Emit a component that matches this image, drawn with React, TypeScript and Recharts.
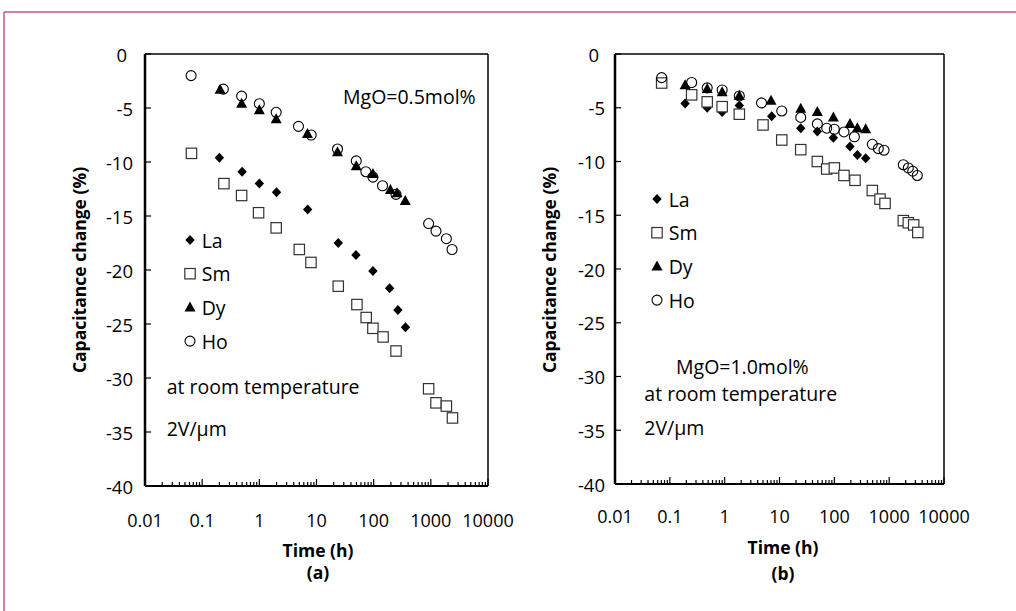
import React from 'react';
import { ScatterChart, Scatter, XAxis, YAxis, ReferenceLine, Legend } from 'recharts';

// ---------- axis ticks ----------
const majorTicks = [0.01, 0.1, 1, 10, 100, 1000, 10000];
const majorTickLabels = ['0.01', '0.1', '1', '10', '100', '1000', '10000'];
const yTicks = [0, -5, -10, -15, -20, -25, -30, -35, -40];
const seriesNames = ['La', 'Sm', 'Dy', 'Ho'];

// ---------- panel (a) MgO = 0.5 mol% ----------
const laTimeA = [0.2, 0.5, 1, 2, 7, 24, 49, 97, 190, 265, 360];
const laValA = [-9.6, -10.9, -12.0, -12.8, -14.4, -17.5, -18.6, -20.1, -21.7, -23.7, -25.3];
const smTimeA = [0.065, 0.24, 0.49, 0.97, 1.97, 5.0, 8.0, 24, 51, 74, 97, 146, 246, 915, 1230, 1870, 2390];
const smValA = [-9.2, -12.0, -13.1, -14.7, -16.1, -18.1, -19.3, -21.5, -23.2, -24.4, -25.4, -26.2, -27.5, -31.0, -32.3, -32.6, -33.7];
const dyTimeA = [0.206, 0.49, 1.0, 1.97, 6.95, 23.3, 49.6, 97, 196, 256, 357];
const dyValA = [-3.3, -4.6, -5.2, -6.05, -7.4, -9.1, -10.4, -11.1, -12.6, -12.9, -13.6];
const hoTimeA = [0.064, 0.235, 0.49, 1.0, 1.97, 4.84, 8.07, 23.3, 49.6, 73, 97, 143, 246, 915, 1230, 1870, 2350];
const hoValA = [-2.0, -3.25, -3.9, -4.6, -5.4, -6.7, -7.5, -8.8, -9.9, -10.9, -11.4, -12.2, -13.0, -15.7, -16.4, -17.1, -18.1];

// ---------- panel (b) MgO = 1.0 mol% ----------
const laTimeB = [0.19, 0.48, 0.9, 1.85, 7.2, 24.4, 49, 96, 193, 263, 373];
const laValB = [-4.6, -5.0, -5.4, -4.8, -5.8, -6.9, -7.2, -7.8, -8.6, -9.4, -9.7];
const smTimeB = [0.071, 0.25, 0.48, 0.9, 1.85, 5.0, 11, 24.4, 49, 72.6, 100, 150, 238, 493, 681, 840, 1812, 2235, 2800, 3330];
const smValB = [-2.7, -3.8, -4.45, -4.9, -5.6, -6.6, -8.0, -8.9, -10.0, -10.7, -10.6, -11.3, -11.75, -12.7, -13.5, -13.9, -15.5, -15.7, -15.9, -16.6];
const dyTimeB = [0.19, 0.48, 0.9, 1.85, 7.0, 24.4, 49, 96, 193, 263, 373];
const dyValB = [-2.9, -3.25, -3.55, -3.9, -4.35, -5.1, -5.4, -5.9, -6.5, -6.9, -7.0];
const hoTimeB = [0.071, 0.25, 0.48, 0.9, 1.85, 4.7, 11, 24.4, 49, 72.6, 100, 150, 232, 493, 634, 806, 1812, 2235, 2690, 3260];
const hoValB = [-2.2, -2.65, -3.15, -3.35, -3.9, -4.55, -5.3, -5.9, -6.5, -6.9, -7.0, -7.25, -7.7, -8.4, -8.8, -8.95, -10.3, -10.6, -10.9, -11.3];

const toPoints = (t: number[], v: number[]) => t.map((x, i) => ({ t: x, v: v[i] }));

const allXTicks: number[] = [];
majorTicks.forEach((m, i) => {
  if (i === majorTicks.length - 1) { allXTicks.push(m); return; }
  for (let k = 1; k <= 9; k++) allXTicks.push(Number((m * k).toPrecision(3)));
});

const FONT = '"Open Sans", "Noto Sans", sans-serif';

// ---------- markers ----------
const Diamond = (p: any) => (
  <polygon points={`${p.cx},${p.cy - 5} ${p.cx + 4.7},${p.cy} ${p.cx},${p.cy + 5} ${p.cx - 4.7},${p.cy}`} fill="#000" />
);
const Square = (p: any) => (
  <rect x={p.cx - 5.2} y={p.cy - 5.2} width={10.4} height={10.4} fill="#fff" stroke="#333" strokeWidth={1.2} />
);
const Triangle = (p: any) => (
  <polygon points={`${p.cx},${p.cy - 6} ${p.cx + 5.5},${p.cy + 4} ${p.cx - 5.5},${p.cy + 4}`} fill="#000" />
);
const Circle = (p: any) => <circle cx={p.cx} cy={p.cy} r={5} fill="none" stroke="#000" strokeWidth={1.1} />;
const markers: Record<string, (p: any) => React.ReactElement> = { La: Diamond, Sm: Square, Dy: Triangle, Ho: Circle };

// ---------- ticks ----------
const makeXTick = (labelDy: number) => (props: any) => {
  const { x, y, payload } = props;
  const v = payload.value;
  const idx = majorTicks.findIndex((m) => Math.abs(m - v) / m < 1e-6);
  const major = idx >= 0;
  return (
    <g>
      <line x1={x} x2={x} y1={y} y2={y - (major ? 7 : 4)} stroke="#000" strokeWidth={1.2} />
      {major && (
        <text x={x} y={y + labelDy} textAnchor="middle" dominantBaseline="central" fontFamily={FONT} fontSize={18} fill="#000">
          {majorTickLabels[idx]}
        </text>
      )}
    </g>
  );
};

const makeYTick = (gap: number) => (props: any) => {
  const { x, y, payload } = props;
  return (
    <g>
      <line x1={x} x2={x + 6} y1={y} y2={y} stroke="#000" strokeWidth={1.2} />
      <text x={x - gap - (payload.value === 0 ? 6 : 0)} y={y} textAnchor="end" dominantBaseline="central" fontFamily={FONT} fontSize={18.5} fill="#000">
        {payload.value}
      </text>
    </g>
  );
};

const makeLegend = () => () => (
  <svg width={120} height={140} style={{ overflow: 'visible' }}>
    {seriesNames.map((n, i) => {
      const M = markers[n];
      const cy = 18 + i * 33.7;
      return (
        <g key={n}>
          <M cx={10} cy={cy} />
          <text x={21.7} y={cy} dominantBaseline="central" fontFamily={FONT} fontSize={19.5} fill="#000">{n}</text>
        </g>
      );
    })}
  </svg>
);

type PanelProps = {
  data: { La: any[]; Sm: any[]; Dy: any[]; Ho: any[] };
  width: number;
  margin: { top: number; right: number; bottom: number; left: number };
  labelDy: number;
  tickGap: number;
  legendPos: { left: number; top: number };
};

const Panel = ({ data, width, margin, labelDy, tickGap, legendPos }: PanelProps) => (
  <ScatterChart width={width} height={611} margin={margin}>
    <XAxis
      dataKey="t"
      type="number"
      scale="log"
      domain={[0.01, 10000]}
      allowDataOverflow
      ticks={allXTicks}
      interval={0}
      tickSize={0}
      tickMargin={0}
      tickLine={false}
      height={40}
      axisLine={{ stroke: '#000', strokeWidth: 2 }}
      tick={makeXTick(labelDy)}
    />
    <YAxis
      dataKey="v"
      type="number"
      domain={[-40, 0]}
      ticks={yTicks}
      interval={0}
      tickSize={0}
      tickMargin={0}
      tickLine={false}
      width={60}
      axisLine={{ stroke: '#000', strokeWidth: 2.5 }}
      tick={makeYTick(tickGap)}
    />
    <ReferenceLine y={0} stroke="#000" strokeWidth={1.5} />
    <ReferenceLine x={10000} stroke="#000" strokeWidth={1.5} />
    <Scatter name="La" data={data.La} shape={Diamond} isAnimationActive={false} />
    <Scatter name="Sm" data={data.Sm} shape={Square} isAnimationActive={false} />
    <Scatter name="Dy" data={data.Dy} shape={Triangle} isAnimationActive={false} />
    <Scatter name="Ho" data={data.Ho} shape={Circle} isAnimationActive={false} />
    <Legend
      layout="vertical"
      align="center"
      verticalAlign="middle"
      content={makeLegend()}
      wrapperStyle={{ left: legendPos.left, top: legendPos.top, width: 120, height: 140 }}
    />
  </ScatterChart>
);

const dataA = {
  La: toPoints(laTimeA, laValA),
  Sm: toPoints(smTimeA, smValA),
  Dy: toPoints(dyTimeA, dyValA),
  Ho: toPoints(hoTimeA, hoValA),
};
const dataB = {
  La: toPoints(laTimeB, laValB),
  Sm: toPoints(smTimeB, smValB),
  Dy: toPoints(dyTimeB, dyValB),
  Ho: toPoints(hoTimeB, hoValB),
};

export default function App() {
  const txt = { fontFamily: FONT, fill: '#000' } as const;
  return (
    <div style={{ position: 'absolute', left: 0, top: 0, width: 1016, height: 611, background: '#fff', overflow: 'hidden' }}>
      <div style={{ position: 'absolute', left: 508, top: 0 }}>
        <Panel data={dataB} width={508} margin={{ top: 54, right: 72, bottom: 87, left: 47 }} labelDy={32} tickGap={10} legendPos={{ left: 138.7, top: 181.3 }} />
      </div>
      <div style={{ position: 'absolute', left: 0, top: 0 }}>
        <Panel data={dataA} width={560} margin={{ top: 54, right: 72, bottom: 85, left: 85 }} labelDy={34} tickGap={12} legendPos={{ left: 180, top: 222 }} />
      </div>
      <svg width={1016} height={611} style={{ position: 'absolute', left: 0, top: 0, pointerEvents: 'none' }}>
        <line x1={4} y1={12} x2={1016} y2={12} stroke="#d14f86" strokeWidth={1.5} />
        <line x1={4} y1={12} x2={4} y2={611} stroke="#d14f86" strokeWidth={1.5} />

        {/* panel (a) texts */}
        <text x={343} y={104} fontSize={19.5} {...txt}>MgO=0.5mol%</text>
        <text x={166.7} y={394} fontSize={19.5} {...txt}>at room temperature</text>
        <text x={166.7} y={436} fontSize={19.5} {...txt}>2V/μm</text>
        <text transform="translate(86,270) rotate(-90)" textAnchor="middle" fontSize={17.5} fontWeight="bold" {...txt}>Capacitance change (%)</text>
        <text x={318} y={557} textAnchor="middle" fontSize={17.5} fontWeight="bold" {...txt}>Time (h)</text>
        <text x={318} y={579} textAnchor="middle" fontSize={17.5} fontWeight="bold" {...txt}>(a)</text>

        {/* panel (b) texts */}
        <text x={676} y={374} fontSize={19.5} {...txt}>MgO=1.0mol%</text>
        <text x={644.3} y={401} fontSize={19.5} {...txt}>at room temperature</text>
        <text x={644.3} y={435} fontSize={19.5} {...txt}>2V/μm</text>
        <text transform="translate(556,270) rotate(-90)" textAnchor="middle" fontSize={17.5} fontWeight="bold" {...txt}>Capacitance change (%)</text>
        <text x={783} y={554} textAnchor="middle" fontSize={17.5} fontWeight="bold" {...txt}>Time (h)</text>
        <text x={783} y={580} textAnchor="middle" fontSize={17.5} fontWeight="bold" {...txt}>(b)</text>
      </svg>
    </div>
  );
}
